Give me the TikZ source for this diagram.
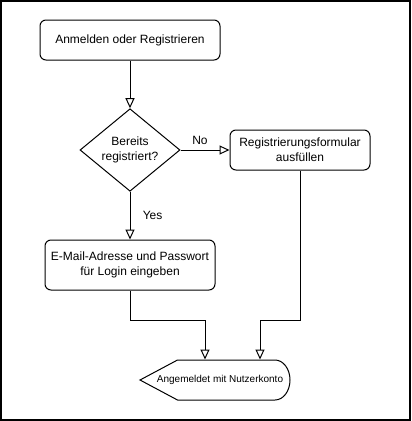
\documentclass[tikz,border=0pt]{standalone}
\usepackage{fontspec}
\setmainfont{Liberation Sans}
\usetikzlibrary{arrows.meta,shapes.geometric}
\begin{document}
\begin{tikzpicture}[x=0.75pt,y=-0.75pt,line width=0.75pt,
  box/.style={draw,rounded corners=4.5pt,align=center,inner sep=0pt,font=\fontsize{9pt}{11pt}\selectfont},
  decision/.style={draw,diamond,align=center,inner sep=0pt,minimum width=75pt,minimum height=60pt,font=\fontsize{9pt}{11pt}\selectfont},
  arr/.style={-{Triangle[open,length=7.5pt,width=6.75pt,fill=white]}},
  lbl/.style={font=\fontsize{9pt}{11pt}\selectfont,inner sep=1pt}]
\useasboundingbox (0,0) rectangle (411,421);
\draw[line width=1.5pt] (1,1) rectangle (409.5,419.5);

\node[box,minimum width=135pt,minimum height=30pt] (start) at (130,40) {Anmelden oder Registrieren};
\node[decision] (dec) at (130,150) {Bereits\\registriert?};
\node[box,minimum width=105pt,minimum height=30pt] (reg) at (300,150) {Registrierungsformular\\ausfüllen};
\node[box,minimum width=127.5pt,minimum height=37.5pt] (login) at (130,265) {E-Mail-Adresse und Passwort\\für Login eingeben};
\node[inner sep=0pt,minimum width=112.5pt,minimum height=30pt] (disp) at (215,380) {};
\draw (140,380) -- (177.5,360) -- (275,360) arc[start angle=90,end angle=-90,x radius=11.25pt,y radius=15pt] -- (177.5,400) -- cycle;
\node[font=\fontsize{7.5pt}{9pt}\selectfont,inner sep=0pt] (disptext) at (220,380) {Angemeldet mit Nutzerkonto};

\draw[arr] (start) -- (dec);
\draw[arr] (dec) -- (reg);
\node[lbl] (no) at (200,140) {No};
\draw[arr] (dec) -- (login);
\node[lbl,anchor=west] (yes) at (141,215) {Yes};
\coordinate (j1) at (130,320);
\coordinate (j2) at (300,320);
\draw[arr] (login.south) -- (j1) -| ([xshift=-7.5pt]disp.north);
\draw[arr] (reg.south) -- (j2) -| ([xshift=33.75pt]disp.north);
\end{tikzpicture}
\end{document}
